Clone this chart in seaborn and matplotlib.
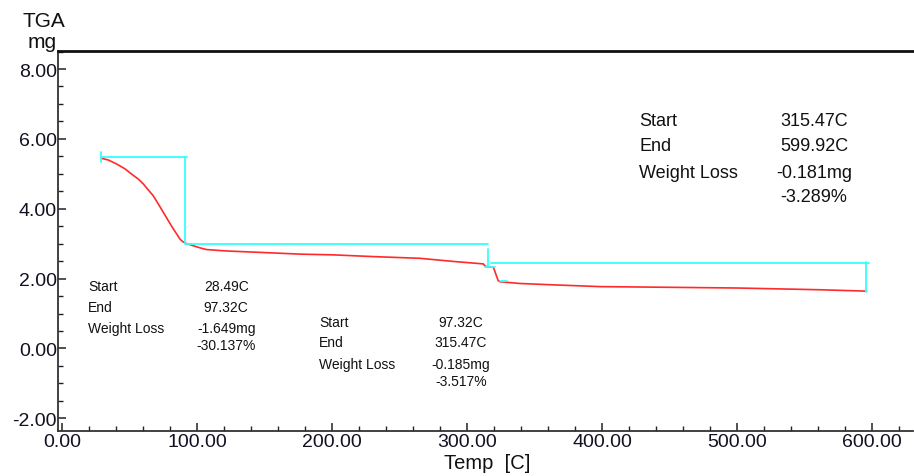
import matplotlib
matplotlib.use("Agg")
import matplotlib.pyplot as plt
from matplotlib.ticker import MultipleLocator, FormatStrFormatter
import pandas as pd
import seaborn as sns

# ---- data ----
temp = [28.5, 29.3, 34.1, 40.3, 46.5, 51.4, 56.3, 60.0, 63.7, 67.4, 71.1, 74.8,
        78.5, 82.3, 85.2, 87.2, 89.2, 90.9, 94.6, 97.1, 102.0, 107.0, 114.4,
        121.8, 146.5, 176.0, 200.0, 230.0, 265.0, 290.0, 312.0, 313.5, 319.5,
        323.0, 324.3, 339.0, 364.0, 398.5, 450.0, 500.0, 561.5, 596.0]
mass = [5.47, 5.44, 5.395, 5.28, 5.14, 4.99, 4.85, 4.71, 4.54, 4.37, 4.14, 3.90,
        3.66, 3.42, 3.25, 3.13, 3.06, 3.02, 2.97, 2.94, 2.88, 2.83, 2.81,
        2.79, 2.75, 2.70, 2.68, 2.63, 2.58, 2.49, 2.42, 2.35, 2.32,
        1.94, 1.91, 1.86, 1.82, 1.77, 1.75, 1.73, 1.68, 1.64]

# step-analysis marker segments (cyan)
cyan_seg = [0, 0, 1, 1, 2, 2, 3, 3, 4, 4, 5, 5, 6, 6, 7, 7, 8, 8]
cyan_x = [28.5, 92.2, 28.5, 28.5, 90.9, 90.9, 90.9, 315.5, 315.2, 315.2,
          317.5, 598.0, 595.4, 595.4, 313.3, 320.7, 324.5, 329.7]
cyan_y = [5.47, 5.47, 5.61, 5.34, 5.47, 3.02, 2.99, 2.99, 2.86, 2.32,
          2.44, 2.44, 2.47, 1.61, 2.33, 2.33, 1.94, 1.94]

ann_labels = ["Start", "End", "Weight Loss"]
ann1_values = ["28.49C", "97.32C", "-1.649mg", "-30.137%"]
ann2_values = ["97.32C", "315.47C", "-0.185mg", "-3.517%"]
ann3_values = ["315.47C", "599.92C", "-0.181mg", "-3.289%"]

x_label = "Temp  [C]"
y_label_top = "TGA"
y_label_unit = "mg"

# ---- styling ----
sns.set_style("ticks")
plt.rcParams["font.family"] = ["Liberation Sans", "DejaVu Sans"]
plt.rcParams["axes.unicode_minus"] = False

fig = plt.figure(figsize=(9.14, 4.77), dpi=100)
ax = fig.add_axes([0.0638, 0.095, 0.9351, 0.7966])

curve = pd.DataFrame({"temp": temp, "mass": mass})
sns.lineplot(data=curve, x="temp", y="mass", sort=False, estimator=None,
             color="#ff2a2a", linewidth=1.2, ax=ax)

marks = pd.DataFrame({"seg": cyan_seg, "x": cyan_x, "y": cyan_y})
sns.lineplot(data=marks, x="x", y="y", units="seg", estimator=None, sort=False,
             color="#33ffff", linewidth=1.3, ax=ax)

ax.set_xlim(-2.96, 630.4)
ax.set_ylim(-2.355, 8.524)
ax.set_xlabel("")
ax.set_ylabel("")

ax.xaxis.set_major_locator(MultipleLocator(100))
ax.xaxis.set_minor_locator(MultipleLocator(20))
ax.yaxis.set_major_locator(MultipleLocator(2))
ax.yaxis.set_minor_locator(MultipleLocator(0.5))
ax.xaxis.set_major_formatter(FormatStrFormatter("%.2f"))
ax.yaxis.set_major_formatter(FormatStrFormatter("%.2f"))

ax.tick_params(axis="both", which="both", direction="in", colors="#222222",
               top=False, right=False)
ax.tick_params(axis="both", which="major", length=6, width=1.1, labelsize=14,
               labelcolor="#111122")
ax.tick_params(axis="both", which="minor", length=3.5, width=1.0)
ax.tick_params(axis="x", which="major", pad=2)
ax.tick_params(axis="y", which="major", pad=1)

for side in ["left", "bottom"]:
    ax.spines[side].set_color("#333333")
    ax.spines[side].set_linewidth(1.3)
ax.spines["top"].set_visible(True)
ax.spines["top"].set_color("#111111")
ax.spines["top"].set_linewidth(2.0)
ax.spines["right"].set_visible(False)

# axis titles
fig.text(0.0476, 0.944, y_label_top, ha="center", va="baseline", fontsize=15,
         color="#111111")
fig.text(0.0465, 0.8994, y_label_unit, ha="center", va="baseline", fontsize=15,
         color="#111111")
fig.text(0.533, 0.016, x_label, ha="center", va="baseline", fontsize=14.5,
         color="#111111")

# annotations (data coordinates)
def annotate(label_x, value_x, rows, values, size):
    for i, lab in enumerate(ann_labels):
        ax.text(label_x, rows[i], lab, ha="left", va="center", fontsize=size,
                color="#111111")
    for i, val in enumerate(values):
        ax.text(value_x, rows[i], val, ha="center", va="center", fontsize=size,
                color="#111111")

annotate(19.0, 121.4, [1.787, 1.186, 0.585, 0.098], ann1_values, 10)
annotate(190.2, 295.4, [0.757, 0.184, -0.446, -0.932], ann2_values, 10)
annotate(427.4, 557.0, [6.54, 5.80, 5.05, 4.36], ann3_values, 13)

fig.savefig("out.png", dpi=100)
